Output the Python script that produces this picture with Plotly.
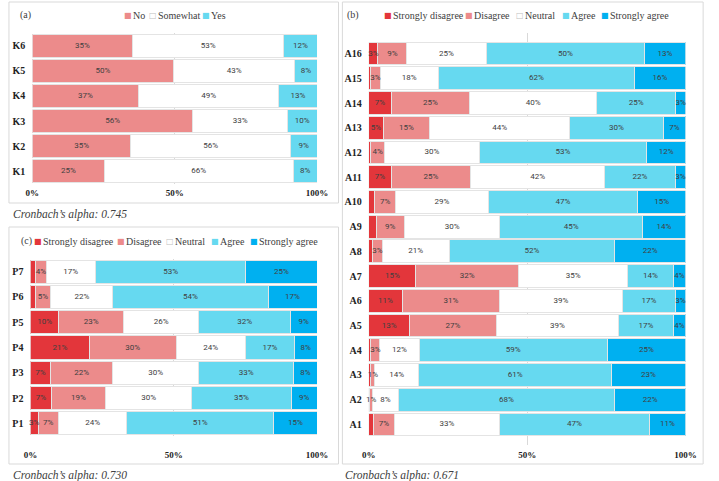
import numpy as np
import plotly.graph_objects as go

# (a) knowledge items
k_items = ["K1", "K2", "K3", "K4", "K5", "K6"]
k_no = [25.3, 34.6, 56.4, 37.3, 49.6, 35.2]
k_somewhat = [66.3, 56.1, 33.2, 49.3, 42.6, 53.1]
k_yes = [8.4, 9.3, 10.4, 13.4, 7.8, 11.7]

# (b) attitude items
a_items = ["A1", "A2", "A3", "A4", "A5", "A6", "A7", "A8",
           "A9", "A10", "A11", "A12", "A13", "A14", "A15", "A16"]
a_sd = [1.4, 0.4, 0.7, 0.7, 12.9, 10.6, 14.9, 1.2, 2.3, 1.9, 7.1, 0.7, 4.6, 7.1, 0.6, 2.9]
a_d = [6.8, 0.8, 1.2, 2.8, 27.3, 30.7, 32.3, 3.1, 9.0, 6.6, 25.0, 4.3, 14.6, 24.7, 3.0, 9.1]
a_n = [33.0, 8.1, 13.9, 12.4, 38.7, 38.8, 34.6, 21.1, 30.1, 29.2, 42.4, 29.9, 44.2, 40.2, 18.4, 25.1]
a_a = [47.4, 68.4, 60.8, 59.4, 17.2, 16.6, 14.3, 52.3, 45.0, 47.2, 22.2, 52.8, 29.6, 24.9, 61.8, 49.9]
a_sa = [11.4, 22.3, 23.4, 24.7, 3.9, 3.3, 3.9, 22.3, 13.6, 15.1, 3.3, 12.3, 7.0, 3.1, 16.2, 13.0]

# (c) practice items
p_items = ["P1", "P2", "P3", "P4", "P5", "P6", "P7"]
p_sd = [2.7, 7.3, 7.0, 20.6, 9.9, 1.7, 1.9]
p_d = [7.1, 19.0, 21.8, 30.2, 22.6, 5.4, 3.6]
p_n = [23.8, 30.0, 29.8, 24.2, 26.3, 21.7, 17.1]
p_a = [51.3, 34.7, 33.3, 17.1, 31.9, 54.1, 52.6]
p_sa = [15.1, 9.0, 8.1, 7.9, 9.3, 17.1, 24.8]

likert_names = ["Strongly disagree", "Disagree", "Neutral", "Agree", "Strongly agree"]
knowledge_names = ["No", "Somewhat", "Yes"]
alphas = {"a": "0.745", "b": "0.671", "c": "0.730"}

RED = "#E3363B"
PINK = "#EC8B8B"
WHITE = "#FFFFFF"
CYAN = "#66D9F0"
BLUE = "#00B0F0"
EDGE = "#E4E4E4"
TXT = "#404040"
likert_colors = [RED, PINK, WHITE, CYAN, BLUE]
knowledge_colors = [PINK, WHITE, CYAN]

W, H = 719, 481


def px(x):
    return x / W


def py(y):
    return 1 - y / H


fig = go.Figure()


def add_panel(items, series, colors, xa, ya, hide_first_below=None):
    left = np.zeros(len(items))
    for i, (vals, col) in enumerate(zip(series, colors)):
        vals = np.array(vals, dtype=float)
        fig.add_trace(go.Bar(
            y=items, x=vals, orientation="h",
            marker=dict(color=col, line=dict(color=EDGE, width=1)),
            xaxis=xa, yaxis=ya, showlegend=False, hoverinfo="skip"))
        labels = []
        for v in vals:
            if i == 0 and hide_first_below is not None and v < hide_first_below:
                labels.append("")
            else:
                labels.append(f"{v:.0f}%")
        fig.add_trace(go.Scatter(
            y=items, x=left + vals / 2, mode="text", text=labels,
            textfont=dict(family="Roboto", size=8, color=TXT),
            xaxis=xa, yaxis=ya, showlegend=False, hoverinfo="skip",
            cliponaxis=False))
        left = left + vals


add_panel(k_items, [k_no, k_somewhat, k_yes], knowledge_colors, "x", "y")
add_panel(a_items, [a_sd, a_d, a_n, a_a, a_sa], likert_colors, "x2", "y2", 2.5)
add_panel(p_items, [p_sd, p_d, p_n, p_a, p_sa], likert_colors, "x3", "y3", 2.5)

xtick = dict(family="Liberation Serif", size=9, color="#222222", weight="bold")
ytick = dict(family="Liberation Serif", size=10, color="#222222", weight="bold")
xcommon = dict(range=[0, 100], tickvals=[0, 50, 100], ticktext=["0%", "50%", "100%"],
               showgrid=True, gridcolor="#D9D9D9", zeroline=False, showline=False,
               tickfont=xtick, fixedrange=True)
ycommon = dict(type="category", showgrid=False, zeroline=False, showline=False,
               tickfont=ytick, ticklabelstandoff=6, fixedrange=True)

fig.update_layout(
    width=W, height=H, margin=dict(l=0, r=0, t=0, b=0),
    paper_bgcolor="white", plot_bgcolor="white",
    barmode="stack", bargap=0.08,
    xaxis=dict(domain=[px(26), px(318)], anchor="y", ticklabelstandoff=2, **xcommon),
    yaxis=dict(domain=[py(184), py(33)], anchor="x", **ycommon),
    xaxis2=dict(domain=[px(371), px(696)], anchor="y2", ticklabelstandoff=3, **xcommon),
    yaxis2=dict(domain=[py(445), py(33)], anchor="x2", **ycommon),
    xaxis3=dict(domain=[px(24), px(318)], anchor="y3", ticklabelstandoff=12, **xcommon),
    yaxis3=dict(domain=[py(436), py(259)], anchor="x3", **ycommon),
)

# panel frames
for x0, y0, x1, y1 in [(2, 2, 340, 203), (2, 227, 340, 464), (344, 2, 714, 464)]:
    fig.add_shape(type="rect", xref="paper", yref="paper",
                  x0=px(x0), x1=px(x1), y0=py(y1), y1=py(y0),
                  line=dict(color="#D9D9D9", width=1), fillcolor="rgba(0,0,0,0)")


def note(text, x, y, font, xanchor="left"):
    fig.add_annotation(x=px(x), y=py(y), xref="paper", yref="paper", showarrow=False,
                       xanchor=xanchor, yanchor="middle", text=text, font=font)


legfont = dict(family="Liberation Serif", size=10, color=TXT)


def add_legend(names, colors, starts, y):
    # one symbol + one label per item
    for n, c, x in zip(names, colors, starts):
        sym, scol = ("□", "#BFBFBF") if c == WHITE else ("■", c)
        note(sym, x, y, dict(family="DejaVu Sans", size=8, color=scol), "center")
        note(n, x + 3, y, legfont)


add_legend(knowledge_names, knowledge_colors, [124, 150, 204], 15)
add_legend(likert_names, likert_colors, [391, 474, 526, 573, 613], 15)
add_legend(likert_names, likert_colors, [32, 117, 167, 213, 253], 241)

# panel letters
for lbl, x, y in [("(a)", 19, 15), ("(b)", 355, 15), ("(c)", 20, 241)]:
    note(lbl, x, y, legfont, "center")

# reliability notes
afont = dict(family="Liberation Serif", size=11.5, color=TXT, style="italic")
for key, x, y in [("a", 4, 214), ("c", 4, 475), ("b", 345, 475)]:
    note(f"Cronbach’s alpha: {alphas[key]}", x, y, afont)

fig.write_html("out.html", config={"displayModeBar": False},
               post_script="document.body.style.margin='0px';document.body.style.overflow='hidden';")
